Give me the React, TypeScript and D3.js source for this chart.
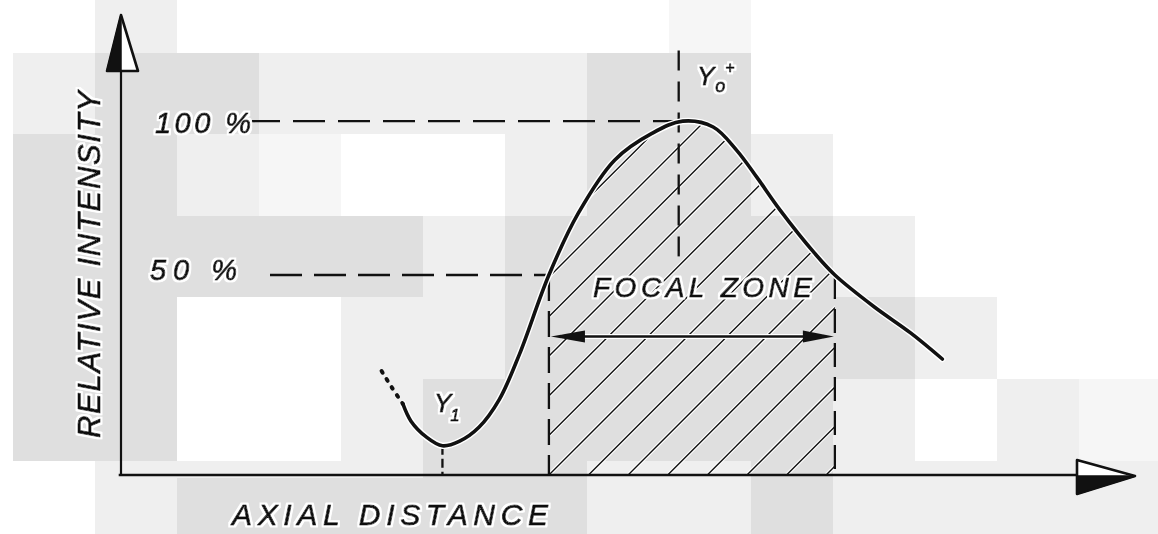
import React from 'react';
import * as d3 from 'd3';

const W = 1158;
const H = 534;

// Beam profile along the axis: axial position (arbitrary units) and relative intensity (%)
const leadInPos = [25.7, 26.7, 27.8];
const leadInInt = [18.8, 13.5, 8.1];
const profilePos = [27.8, 28.6, 30.1, 31.7, 33.4, 35.3, 37.3, 39.3, 42.2, 45.1, 48.7, 52.4, 55.4, 58.4, 60.7, 62.7, 65.0, 68.4, 70.4, 74.3, 77.9, 81.0];
const profileInt = [8.1, 2.5, -2.6, -5.5, -4.0, 0.5, 9.5, 24.3, 50.0, 70.1, 87.4, 96.1, 100, 98.1, 90.6, 81.8, 71.1, 57.1, 50.0, 39.6, 31.1, 22.7];

// Reference levels and marked positions
const levelLabels = ['100 %', '50 %'];
const levelValues = [100, 50];
const focalZone = [42.2, 70.4];
const focalArrowLevel = 30;
const peakMarkerPos = 55.0;
const peakMarkerSpan = [54, 123];
const minimumPos = 31.7;
const minimumInt = -5.5;

// Scanned paper shading, stored as rows of tiles
const tileCols = [0, 13, 95, 177, 259, 341, 423, 505, 587, 669, 751, 833, 915, 997, 1079, 1158];
const tileRows = [0, 53, 134, 216, 297, 379, 461, 478, 534];
const tileShades = [
  'WWLWWWWWWVWWWWW',
  'WLGGLLLLGGWWWWW',
  'WGGLVWWLGGLWWWW',
  'WGGGGGLGGGGLWWW',
  'WGGWWLLGGGGGLWW',
  'WGGWWLGGGGGLWLV',
  'WWLLLLGGLLGLLLL',
  'WWLGGGGGLLGLLLL',
];
const shadeColor: Record<string, string> = { W: '#ffffff', V: '#f6f6f6', L: '#efefef', G: '#dfdfdf' };

const FONT = "'Liberation Sans', Arial, sans-serif";

export default function App() {
  const x = d3.scaleLinear().domain([0, 100]).range([121, 1135]);
  const y = d3.scaleLinear().domain([-15, 134.5]).range([475, 15]);

  const pts = (xs: number[], ys: number[]) => xs.map((v, i) => [v, ys[i]] as [number, number]);
  const line = d3
    .line<[number, number]>()
    .x((d) => x(d[0]))
    .y((d) => y(d[1]))
    .curve(d3.curveCatmullRom.alpha(0.5));

  const profile = pts(profilePos, profileInt);
  const solidPath = line(profile) || '';
  const leadInPath = line(pts(leadInPos, leadInInt)) || '';

  const zonePts = profile.filter((d) => d[0] >= focalZone[0] && d[0] <= focalZone[1]);
  const zoneArea =
    d3
      .area<[number, number]>()
      .x((d) => x(d[0]))
      .y0(y(-15))
      .y1((d) => y(d[1]))
      .curve(d3.curveCatmullRom.alpha(0.5))(zonePts) || '';

  const x0 = x(0);
  const yBase = y(-15);
  const xTip = x(100);
  const yTip = y(134.5);

  // 45° hatch lines, spaced along the axis from the left edge of the focal zone
  const hatchStep = 39.6;
  const zl = x(focalZone[0]);
  const zr = x(focalZone[1]);
  const hatch = d3.range(-12, 9).map((k) => zl + k * hatchStep);

  const yArrow = y(focalArrowLevel);

  const tiles: { x: number; y: number; w: number; h: number; c: string }[] = [];
  tileShades.forEach((row, ri) => {
    row.split('').forEach((s, ci) => {
      tiles.push({
        x: tileCols[ci],
        y: tileRows[ri],
        w: tileCols[ci + 1] - tileCols[ci],
        h: tileRows[ri + 1] - tileRows[ri],
        c: shadeColor[s],
      });
    });
  });

  return (
    <svg
      width={W}
      height={H}
      viewBox={`0 0 ${W} ${H}`}
      style={{ position: 'absolute', left: 0, top: 0, display: 'block', background: '#fff' }}
    >
      <defs>
        <clipPath id="zoneClip">
          <path d={zoneArea} />
        </clipPath>
        {/* thin white outline around lettering */}
        <filter id="halo" x="-10%" y="-20%" width="120%" height="140%">
          <feMorphology in="SourceAlpha" operator="dilate" radius="2" result="grown" />
          <feFlood floodColor="#ffffff" />
          <feComposite in2="grown" operator="in" result="outline" />
          <feMerge>
            <feMergeNode in="outline" />
            <feMergeNode in="SourceGraphic" />
          </feMerge>
        </filter>
      </defs>

      {/* paper shading */}
      <g shapeRendering="crispEdges">
        {tiles.map((t, i) => (
          <rect key={i} x={t.x} y={t.y} width={t.w} height={t.h} fill={t.c} />
        ))}
      </g>

      {/* hatched focal zone */}
      <g clipPath="url(#zoneClip)">
        {hatch.map((h, i) => (
          <line key={`hw${i}`} x1={h} y1={yBase} x2={h + 480} y2={yBase - 480} stroke="#fff" strokeWidth={3.6} />
        ))}
        {hatch.map((h, i) => (
          <line key={`hb${i}`} x1={h} y1={yBase} x2={h + 480} y2={yBase - 480} stroke="#111" strokeWidth={1.4} />
        ))}
      </g>

      {/* reference level lines */}
      <g fill="none" stroke="#111" strokeWidth={2.3}>
        <line x1={248} y1={y(levelValues[0])} x2={x(peakMarkerPos)} y2={y(levelValues[0])} strokeDasharray="32 13" />
        <line x1={270} y1={y(levelValues[1])} x2={zl} y2={y(levelValues[1])} strokeDasharray="32 12" />
        <line x1={x(peakMarkerPos)} y1={y(peakMarkerSpan[1])} x2={x(peakMarkerPos)} y2={y(peakMarkerSpan[0])} strokeDasharray="20 11" />
        <line x1={zl} y1={y(levelValues[1])} x2={zl} y2={yBase} strokeDasharray="26 10" />
        <line x1={zr} y1={y(levelValues[1])} x2={zr} y2={yBase} strokeDasharray="24 10" />
        <line x1={x(minimumPos)} y1={y(minimumInt)} x2={x(minimumPos)} y2={yBase} strokeDasharray="9 4" />
      </g>

      {/* focal zone double arrow */}
      <g>
        <line x1={zl + 12} y1={yArrow} x2={zr - 12} y2={yArrow} stroke="#fff" strokeWidth={5} />
        <line x1={zl + 12} y1={yArrow} x2={zr - 12} y2={yArrow} stroke="#111" strokeWidth={2.4} />
        <polygon points={`${zl + 2},${yArrow} ${zl + 36},${yArrow - 6} ${zl + 36},${yArrow + 6}`} fill="#111" />
        <polygon points={`${zr - 1},${yArrow} ${zr - 32},${yArrow - 6} ${zr - 32},${yArrow + 6}`} fill="#111" />
      </g>

      {/* intensity profile */}
      <path d={solidPath} fill="none" stroke="#fff" strokeWidth={6.5} strokeLinecap="round" />
      <path d={solidPath} fill="none" stroke="#111" strokeWidth={3.6} strokeLinecap="round" />
      <path d={leadInPath} fill="none" stroke="#111" strokeWidth={4} strokeLinecap="round" strokeDasharray="2 7.5" />

      {/* axes */}
      <g stroke="#111" fill="none" strokeLinecap="square">
        <line x1={x0} y1={yBase} x2={x0} y2={yTip + 55} strokeWidth={2.2} />
        <line x1={x0 - 1} y1={yBase} x2={xTip - 57} y2={yBase} strokeWidth={2.6} />
      </g>
      {/* y-axis arrow: left half filled */}
      <polygon points={`${x0},${yTip} ${x0 - 14},${yTip + 56} ${x0 + 17},${yTip + 56}`} fill="#fff" stroke="#111" strokeWidth={2.6} strokeLinejoin="round" />
      <polygon points={`${x0},${yTip} ${x0 - 14},${yTip + 56} ${x0},${yTip + 56}`} fill="#111" stroke="#111" strokeWidth={1.5} strokeLinejoin="round" />
      {/* x-axis arrow: lower half filled */}
      <polygon points={`${xTip},${yBase + 1} ${xTip - 58},${yBase - 15} ${xTip - 58},${yBase + 19}`} fill="#fff" stroke="#111" strokeWidth={2.6} strokeLinejoin="round" />
      <polygon points={`${xTip},${yBase + 1} ${xTip - 58},${yBase + 1} ${xTip - 58},${yBase + 19}`} fill="#111" stroke="#111" strokeWidth={1.5} strokeLinejoin="round" />

      {/* labels */}
      <g fontFamily={FONT} fontStyle="italic" fill="#111" stroke="#111" strokeWidth={0.9} strokeLinejoin="round" filter="url(#halo)">
        <text x={155} y={133} fontSize={29} textLength={96} lengthAdjust="spacing">{levelLabels[0]}</text>
        <text x={150} y={280} fontSize={29} textLength={87} lengthAdjust="spacing">{levelLabels[1]}</text>
        <text x={593} y={297} fontSize={28} textLength={219} lengthAdjust="spacing">FOCAL ZONE</text>
        <text x={232} y={525} fontSize={30} textLength={316} lengthAdjust="spacing">AXIAL DISTANCE</text>
        <text transform="translate(100,438) rotate(-90)" fontSize={31} textLength={347} lengthAdjust="spacing">RELATIVE INTENSITY</text>
        <text x={434} y={412} fontSize={26}>
          Y<tspan fontSize={17} dx={-1} dy={9}>1</tspan>
        </text>
        <text x={697} y={85} fontSize={26}>
          Y<tspan fontSize={18} dx={1} dy={7}>o</tspan>
          <tspan fontSize={16} dx={0} dy={-19}>+</tspan>
        </text>
      </g>
    </svg>
  );
}
